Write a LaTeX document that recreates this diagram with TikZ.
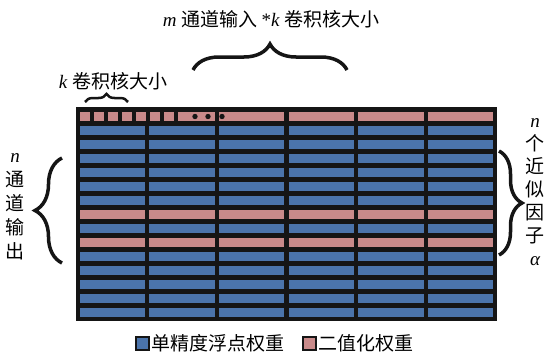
\documentclass[tikz,border=0pt]{standalone}
\usepackage{fontspec}
\setmainfont{Liberation Serif}
\newfontfamily\cjk{Noto Sans CJK SC}
\usetikzlibrary{decorations.pathreplacing}
\definecolor{cellblue}{HTML}{4B74AB}
\definecolor{cellpink}{HTML}{C98A8A}
\definecolor{gridblack}{HTML}{151515}
\tikzset{
  bluecell/.style={fill=cellblue,draw=gridblack,line width=0.6pt},
  pinkcell/.style={fill=cellpink,draw=gridblack,line width=0.6pt},
  bigbrace/.style={decorate,decoration={brace,amplitude=#1},line width=3.5pt,draw=gridblack},
  lbl/.style={font=\cjk\fontsize{19}{24}\selectfont,inner sep=0pt},
}
\begin{document}
\begin{tikzpicture}[x=1pt,y=-1pt]
\useasboundingbox (0,0) rectangle (548,356);
% grid background
\fill[gridblack] (76,107) rectangle (497,321);
% rows
\foreach \r in {1,...,14}{
  \pgfmathsetmacro{\yt}{111+14*\r}
  \foreach \c in {0,...,5}{
    \pgfmathsetmacro{\xl}{79+69.6*\c}
    \ifnum\r=7 \def\st{pinkcell}\else\ifnum\r=9 \def\st{pinkcell}\else\def\st{bluecell}\fi\fi
    \path[\st] (\xl,\yt) rectangle ++(66.5,10);
  }
}
% top row: small squares
\foreach \x in {79,93,107,121,135,149,163}{
  \path[pinkcell] (\x,111) rectangle ++(11,10);
}
\path[pinkcell] (177,111) rectangle (215.1,121);
\foreach \c in {2,...,5}{
  \pgfmathsetmacro{\xl}{79+69.6*\c}
  \path[pinkcell] (\xl,111) rectangle ++(66.5,10);
}
\foreach \x in {195,208,222}{\fill[gridblack] (\x,116.5) circle (2.7);}
% braces
\coordinate (sbL) at (85,102); \coordinate (sbR) at (128,102);
\draw[bigbrace=8pt,line width=2.5pt] (sbL) -- (sbR);
\coordinate (tbL) at (193,70); \coordinate (tbR) at (347,70);
\draw[bigbrace=26pt] (tbL) -- (tbR);
\coordinate (lbB) at (62,263); \coordinate (lbT) at (62,158);
\draw[bigbrace=27pt] (lbB) -- (lbT);
\coordinate (rbT) at (499,151); \coordinate (rbB) at (499,255);
\draw[bigbrace=23pt] (rbT) -- (rbB);
% labels
\node[lbl] (klabel) at (113,81) {\rmfamily\itshape k\ \cjk 卷积核大小};
\node[lbl] (mlabel) at (271,19) {\rmfamily\itshape m\ \cjk 通道输入 \rmfamily\upshape*\itshape k\ \cjk 卷积核大小};
\node[lbl,align=center] (nout) at (15,207) {{\rmfamily\itshape n}\\通\\道\\输\\出};
\node[lbl,align=center,font=\cjk\fontsize{19}{23}\selectfont] (nalpha) at (535,192) {{\rmfamily\itshape n}\\个\\近\\似\\因\\子\\{\rmfamily\itshape α}};
% legend
\path[fill=cellblue,draw=gridblack,line width=2.5pt] (136,337) rectangle (149,350);
\node[lbl,anchor=west] (lg1) at (151,343.5) {单精度浮点权重};
\path[fill=cellpink,draw=gridblack,line width=2.5pt] (303,337) rectangle (316,350);
\node[lbl,anchor=west] (lg2) at (318,343.5) {二值化权重};
\end{tikzpicture}
\end{document}
